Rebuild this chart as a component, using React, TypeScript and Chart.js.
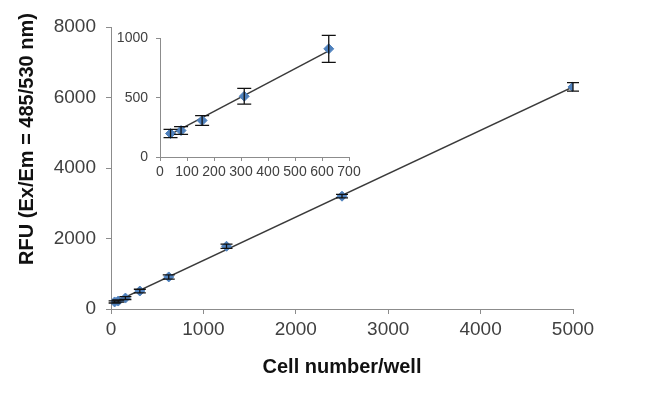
import React, { useEffect, useRef } from "react";
import { Chart, registerables } from "chart.js";

Chart.register(...registerables);

// Data
const cellNumbers = [39, 78, 156, 312, 625, 1250, 2500, 5000];
const rfuValues = [200, 225, 310, 510, 910, 1780, 3200, 6300];
const rfuErrors = [30, 30, 40, 50, 60, 60, 50, 120];

const insetCells = [39, 78, 156, 312, 625];
const insetRfu = [198, 223, 308, 512, 912];
const insetErrors = [35, 33, 41, 66, 114];

const trendX = [0, 5000];
const trendY = [150, 6300];
const insetTrendX = [30, 625];
const insetTrendY = [180, 895];

const mainXTicks = [0, 1000, 2000, 3000, 4000, 5000];
const mainYTicks = [0, 2000, 4000, 6000, 8000];
const insetXTicks = [0, 100, 200, 300, 400, 500, 600, 700];
const insetYTicks = [0, 500, 1000];

const xTitle = "Cell number/well";
const yTitle = "RFU (Ex/Em = 485/530 nm)";

const MARKER = "#4F81BD";
const AXIS = "#8c8c8c";
const TEXT = "#404040";
const FONT = "'Liberation Sans', Arial, sans-serif";

const errorBarPlugin = {
  id: "errorBars",
  afterDatasetsDraw(chart: any, _args: any, opts: any) {
    const { ctx } = chart;
    const xs = chart.scales.x;
    const ys = chart.scales.y;
    chart.data.datasets.forEach((ds: any) => {
      if (!ds.errors) return;
      ctx.save();
      ctx.strokeStyle = "#111";
      ctx.lineWidth = 1.3;
      const cap = opts?.cap ?? 6;
      ds.data.forEach((p: any, i: number) => {
        const e = ds.errors[i];
        const px = xs.getPixelForValue(p.x);
        const top = ys.getPixelForValue(p.y + e);
        const bot = ys.getPixelForValue(p.y - e);
        ctx.beginPath();
        ctx.moveTo(px, top);
        ctx.lineTo(px, bot);
        ctx.moveTo(px - cap, top);
        ctx.lineTo(px + cap, top);
        ctx.moveTo(px - cap, bot);
        ctx.lineTo(px + cap, bot);
        ctx.stroke();
      });
      ctx.restore();
    });
  },
};

// Draws the rotated y-axis title at the reference position
const yTitlePlugin = {
  id: "yTitleText",
  afterDraw(chart: any, _args: any, opts: any) {
    if (!opts || !opts.text) return;
    const { ctx } = chart;
    ctx.save();
    ctx.translate(opts.x, opts.y);
    ctx.rotate(-Math.PI / 2);
    ctx.font = `bold 20px ${FONT}`;
    ctx.fillStyle = "#111";
    ctx.textAlign = "center";
    ctx.textBaseline = "middle";
    ctx.fillText(opts.text, 0, 0);
    ctx.restore();
  },
};

function makeConfig(
  xs: number[], ys: number[], errs: number[], tx: number[], ty: number[],
  xTicks: number[], yTicks: number[], opt: any
): any {
  return {
    type: "scatter",
    data: {
      datasets: [
        {
          type: "line",
          data: tx.map((x, i) => ({ x, y: ty[i] })),
          borderColor: "#3a3a3a",
          borderWidth: 1.5,
          pointRadius: 0,
          fill: false,
          order: 2,
        },
        {
          data: xs.map((x, i) => ({ x, y: ys[i] })),
          errors: errs,
          backgroundColor: MARKER,
          borderColor: MARKER,
          pointStyle: "rectRot",
          pointRadius: opt.radius,
          order: 1,
        },
      ],
    },
    options: {
      animation: false,
      responsive: false,
      maintainAspectRatio: false,
      layout: { padding: opt.padding },
      plugins: {
        legend: { display: false },
        tooltip: { enabled: false },
        errorBars: { cap: opt.cap },
        yTitleText: opt.yTitle ? { text: opt.yTitle, x: 27, y: 139 } : {},
      },
      scales: {
        x: {
          type: "linear",
          min: xTicks[0],
          max: xTicks[xTicks.length - 1],
          afterBuildTicks: (s: any) => { s.ticks = xTicks.map((v) => ({ value: v })); },
          afterFit: (s: any) => { s.height = opt.xHeight; },
          grid: { display: true, drawOnChartArea: false, color: AXIS, tickLength: opt.tickLen },
          border: { display: true, color: AXIS, width: 1 },
          ticks: {
            autoSkip: false, maxRotation: 0, color: TEXT, padding: opt.xPad,
            font: { family: FONT, size: opt.tickSize },
            callback: (v: any) => String(v),
          },
          title: opt.xTitle
            ? { display: true, text: opt.xTitle, color: "#111", padding: { top: 4, bottom: 0 }, font: { family: FONT, size: 20, weight: "bold" } }
            : { display: false },
        },
        y: {
          type: "linear",
          min: yTicks[0],
          max: yTicks[yTicks.length - 1],
          afterBuildTicks: (s: any) => { s.ticks = yTicks.map((v) => ({ value: v })); },
          afterFit: (s: any) => { s.width = opt.yWidth; },
          grid: { display: true, drawOnChartArea: false, color: AXIS, tickLength: opt.tickLen },
          border: { display: true, color: AXIS, width: 1 },
          ticks: {
            autoSkip: false, color: TEXT, padding: opt.yPad,
            font: { family: FONT, size: opt.tickSize },
            callback: (v: any) => String(v),
          },
          title: { display: false },
        },
      },
    },
    plugins: [errorBarPlugin, yTitlePlugin],
  };
}

export default function App() {
  const mainRef = useRef<HTMLCanvasElement>(null);
  const insetRef = useRef<HTMLCanvasElement>(null);

  useEffect(() => {
    const main = new Chart(
      mainRef.current!,
      makeConfig(cellNumbers, rfuValues, rfuErrors, trendX, trendY, mainXTicks, mainYTicks, {
        radius: 5, cap: 6, tickLen: 5, tickSize: 19, xPad: 4, yPad: 10,
        padding: { top: 27, right: 77, left: 19, bottom: 15 },
        xHeight: 70, yWidth: 92,
        xTitle, yTitle,
      })
    );
    const inset = new Chart(
      insetRef.current!,
      makeConfig(insetCells, insetRfu, insetErrors, insetTrendX, insetTrendY, insetXTicks, insetYTicks, {
        radius: 5, cap: 7, tickLen: 4, tickSize: 14, xPad: 3, yPad: 8,
        padding: { top: 14, right: 21, left: 0, bottom: 0 },
        xHeight: 35, yWidth: 50,
      })
    );
    return () => { main.destroy(); inset.destroy(); };
  }, []);

  return (
    <div style={{ position: "fixed", left: 0, top: 0, width: 650, height: 394, background: "#fff" }}>
      <canvas ref={mainRef} width={650} height={394} style={{ position: "absolute", left: 0, top: 0 }} />
      <canvas ref={insetRef} width={260} height={170} style={{ position: "absolute", left: 110, top: 22 }} />
    </div>
  );
}
